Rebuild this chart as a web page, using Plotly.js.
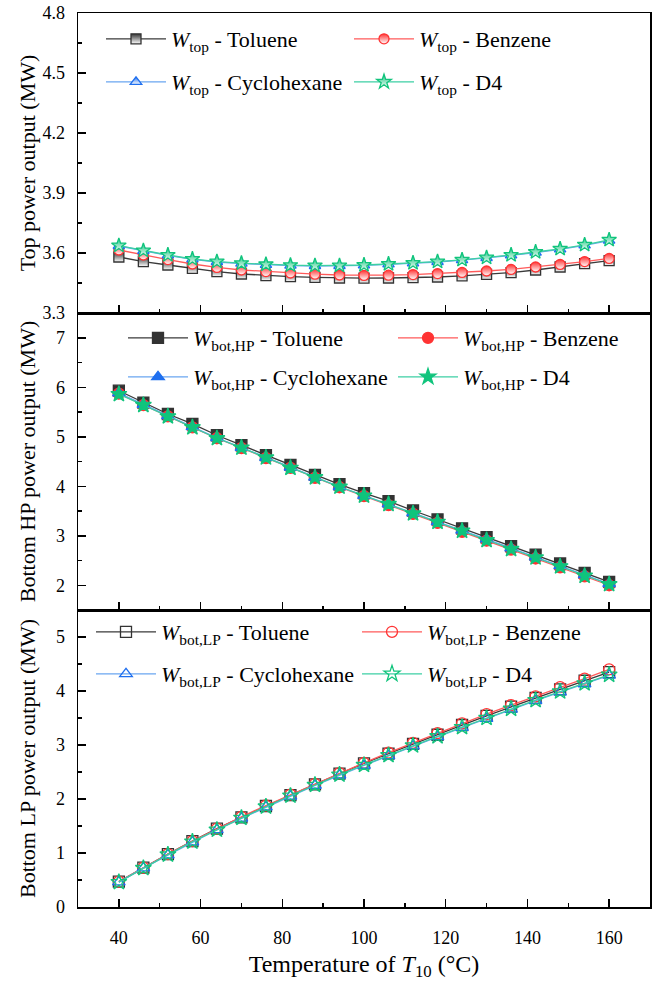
<!DOCTYPE html>
<html>
<head>
<meta charset="utf-8">
<script src="https://cdn.plot.ly/plotly-3.0.1.min.js"></script>
<style>html,body{margin:0;padding:0;background:#fff;}</style>
</head>
<body>
<div id="chart" style="width:655px;height:981px;"></div>
<script>
const temps = [40,46,52,58,64,70,76,82,88,94,100,106,112,118,124,130,136,142,148,154,160];

const fluids = ['Toluene','Benzene','Cyclohexane','D4'];

// Top power output (MW)
const topToluene     = [3.580,3.557,3.540,3.523,3.507,3.495,3.487,3.482,3.478,3.475,3.474,3.475,3.477,3.480,3.486,3.493,3.502,3.515,3.530,3.547,3.562];
const topBenzene     = [3.615,3.590,3.567,3.545,3.528,3.515,3.507,3.500,3.494,3.490,3.488,3.489,3.492,3.497,3.503,3.510,3.518,3.530,3.543,3.557,3.573];
const topCyclohexane = [3.635,3.610,3.588,3.568,3.555,3.547,3.541,3.537,3.535,3.535,3.538,3.543,3.548,3.555,3.564,3.575,3.588,3.602,3.618,3.638,3.662];
const topD4          = [3.637,3.612,3.590,3.570,3.557,3.549,3.543,3.539,3.537,3.537,3.540,3.545,3.550,3.557,3.566,3.577,3.590,3.605,3.621,3.641,3.666];

// Bottom HP power output (MW)
const hpToluene     = [5.93,5.69,5.46,5.26,5.03,4.83,4.63,4.43,4.23,4.04,3.86,3.70,3.51,3.33,3.15,2.97,2.79,2.62,2.44,2.25,2.07];
const hpBenzene     = [5.87,5.64,5.41,5.19,4.97,4.77,4.57,4.37,4.17,3.98,3.80,3.62,3.44,3.26,3.08,2.90,2.72,2.54,2.36,2.18,2.00];
const hpCyclohexane = [5.88,5.65,5.42,5.20,4.98,4.78,4.58,4.38,4.18,3.99,3.81,3.64,3.46,3.28,3.11,2.93,2.75,2.57,2.39,2.21,2.03];
const hpD4          = [5.86,5.64,5.41,5.19,4.97,4.78,4.58,4.37,4.18,3.99,3.81,3.64,3.45,3.28,3.10,2.91,2.73,2.56,2.38,2.19,2.02];

// Bottom LP power output (MW)
const lpToluene     = [0.47,0.73,0.98,1.22,1.45,1.66,1.87,2.07,2.27,2.47,2.66,2.84,3.02,3.19,3.37,3.54,3.71,3.87,4.03,4.19,4.35];
const lpBenzene     = [0.47,0.73,0.98,1.22,1.45,1.67,1.88,2.08,2.28,2.48,2.67,2.86,3.04,3.22,3.40,3.57,3.74,3.90,4.07,4.23,4.40];
const lpCyclohexane = [0.46,0.72,0.96,1.20,1.43,1.64,1.85,2.05,2.25,2.44,2.62,2.80,2.98,3.15,3.32,3.49,3.66,3.82,3.98,4.13,4.29];
const lpD4          = [0.46,0.72,0.97,1.21,1.43,1.65,1.86,2.06,2.26,2.45,2.63,2.81,2.99,3.16,3.33,3.50,3.67,3.83,3.99,4.14,4.30];

const yTitles = ['Top power output (MW)','Bottom HP power output (MW)','Bottom LP power output (MW)'];
const xTitle = 'Temperature of <i>T</i><sub>10</sub> (°C)';
const subs = ['top','bot,HP','bot,LP'];

const lineColors   = ['#3a3a3a','#ff5a5a','#6aa6f0','#3ccfa4'];
const markerColors = ['#333333','#ff3333','#1f6fef','#10c47c'];
const symbolsBase  = ['square','circle','triangle-up','star'];

const FONT = 'Liberation Serif, Times New Roman, serif';

const panels = [
  {data:[topToluene,topBenzene,topCyclohexane,topD4], xa:'x3', ya:'y3', style:'half'},
  {data:[hpToluene,hpBenzene,hpCyclohexane,hpD4],     xa:'x2', ya:'y2', style:'filled'},
  {data:[lpToluene,lpBenzene,lpCyclohexane,lpD4],     xa:'x',  ya:'y',  style:'open'}
];

const traces = [];
let legendIndex = 0;
panels.forEach((p, pi) => {
  p.data.forEach((ys, i) => {
    const m = {size: 10, color: markerColors[i], line:{color: markerColors[i], width: 1.3}};
    let sym = symbolsBase[i];
    if (p.style === 'open') { sym = sym + '-open'; m.size = 11; }
    else if (p.style === 'half') {
      m.gradient = {type:'vertical', color:'#ffffff'};
    } else { m.size = 11; }
    if (i === 3) m.size += 1;
    m.symbol = sym;
    legendIndex++;
    traces.push({
      type:'scatter', mode:'lines+markers',
      x: temps, y: ys,
      xaxis: p.xa, yaxis: p.ya,
      legend: legendIndex === 1 ? 'legend' : 'legend' + legendIndex,
      name: '<i>W</i><sub>' + subs[pi] + '</sub> - ' + fluids[i],
      line:{color: lineColors[i], width: 1.3},
      marker: m
    });
  });
});

const H = 894;
const dBot = [0, 297/H];
const dMid = [297/H, 594/H];
const dTop = [594/H, 1];

function xax(show, anchor){
  return {
    range:[30,170], anchor: anchor, matches: anchor==='y'?undefined:'x',
    dtick:20, tick0:0, ticks:'inside', ticklen:8, tickwidth:1.5, tickcolor:'#000',
    minor:{dtick:10, tick0:0, ticks:'inside', ticklen:4, tickwidth:1.5, tickcolor:'#000'},
    showline:true, linecolor:'#000', linewidth:1.5, mirror:true,
    showgrid:false, zeroline:false,
    showticklabels: show,
    ticklabelstandoff: 14,
    tickfont:{family:FONT, size:18, color:'#000'},
    title: show ? {text:xTitle, font:{family:FONT, size:24, color:'#000'}, standoff:21} : undefined
  };
}
function yax(domain, range, dtick, minor, title, fmt, anchor, standoff){
  return {
    domain: domain, range: range, anchor: anchor,
    dtick: dtick, tick0: 0, ticks:'inside', ticklen:8, tickwidth:1.5, tickcolor:'#000',
    minor:{dtick:minor, tick0:0, ticks:'inside', ticklen:4, tickwidth:1.5, tickcolor:'#000'},
    showline:true, linecolor:'#000', linewidth:1.5, mirror:true,
    showgrid:false, zeroline:false,
    tickformat: fmt,
    ticklabelstandoff: 8,
    tickfont:{family:FONT, size:18, color:'#000'},
    title:{text:title, font:{family:FONT, size:22, color:'#000'}, standoff:standoff}
  };
}

// single-entry legend placed so its text starts at textX (px) and its row is centred on rowY (px)
function leg(textX, rowY){
  return {
    x: (textX - 71 - 78)/572, xanchor:'left',
    y: 1 - (rowY - 13)/H, yanchor:'middle',
    orientation:'v', itemwidth: 60,
    bgcolor:'rgba(0,0,0,0)', borderwidth:0,
    font:{family:FONT, size:22, color:'#000'}
  };
}

// [textX, rowY] for each entry, panel by panel (Toluene, Benzene, Cyclohexane, D4)
const legendSpots = [
  [172,39],[420,39],[172,82],[420,82],
  [194,338],[464,338],[194,377],[464,377],
  [162,632],[428,632],[162,674],[428,674]
];

const layout = {
  width:655, height:981,
  margin:{l:78, r:5, t:13, b:74},
  paper_bgcolor:'#fff', plot_bgcolor:'#fff',
  showlegend:true,
  font:{family:FONT, color:'#000'},
  xaxis: xax(true, 'y'),
  xaxis2: xax(false, 'y2'),
  xaxis3: xax(false, 'y3'),
  yaxis: yax(dBot, [0,5.5], 1, 0.5, yTitles[2], 'd', 'x', 14),
  yaxis2: yax(dMid, [1.5,7.5], 1, 0.5, yTitles[1], 'd', 'x2', 14),
  yaxis3: yax(dTop, [3.3,4.8], 0.3, 0.15, yTitles[0], '.1f', 'x3', 0)
};
legendSpots.forEach((s, k) => {
  layout[k === 0 ? 'legend' : 'legend' + (k + 1)] = leg(s[0], s[1]);
});

Plotly.newPlot('chart', traces, layout, {staticPlot:true, displayModeBar:false});
</script>
</body>
</html>
